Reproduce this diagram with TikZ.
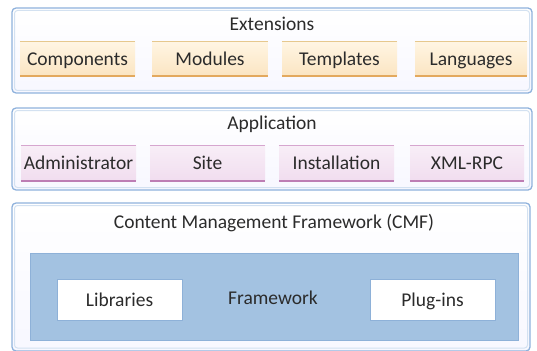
\documentclass[tikz,border=0pt]{standalone}
\usepackage{fontspec}
\setmainfont{Carlito}
\definecolor{frameblue}{HTML}{8FB2DC}
\definecolor{frameinner}{HTML}{D3E1F1}
\definecolor{txt}{HTML}{2B2B2B}
\definecolor{extfillA}{HTML}{FFF5E3}
\definecolor{extfillB}{HTML}{FBE5C2}
\definecolor{exttopc}{HTML}{E6C88E}
\definecolor{extbotc}{HTML}{E3A95E}
\definecolor{appfillA}{HTML}{F8EEF7}
\definecolor{appfillB}{HTML}{F1DDEF}
\definecolor{apptopc}{HTML}{D6A6CF}
\definecolor{appbotc}{HTML}{BD7DB4}
\definecolor{cmfblue}{HTML}{A3C2E1}
\definecolor{cmfborder}{HTML}{8EB1D8}
\tikzset{
  frame/.style={draw=frameblue, line width=1.3pt, rounded corners=4pt, top color=white, bottom color=black!2!blue!3!white},
  frameinner/.style={draw=frameinner, line width=1pt, rounded corners=3pt},
  lbl/.style={text=txt, font=\fontsize{19.5}{22}\selectfont, inner sep=0pt, text height=1.3em, text depth=0pt},
  extbox/.style={lbl, top color=extfillA, bottom color=extfillB, minimum width=115pt, minimum height=34pt},
  appbox/.style={lbl, top color=appfillA, bottom color=appfillB, minimum width=115pt, minimum height=35pt},
  exttop/.style={draw=exttopc, line width=1.3pt},
  extbot/.style={draw=extbotc, line width=1.8pt},
  apptop/.style={draw=apptopc, line width=1.3pt},
  appbot/.style={draw=appbotc, line width=1.8pt},
  whitebox/.style={lbl, fill=white, draw=cmfborder, line width=0.8pt, minimum width=125pt, minimum height=41pt},
}
\begin{document}
\begin{tikzpicture}[x=1pt,y=-1pt]
\useasboundingbox (0,0) rectangle (537,350);
% frames
\draw[frame] (12,8) rectangle (532,93);
\draw[frameinner] (14.5,10.5) rectangle (529.5,90.5);
\draw[frame] (12,108) rectangle (532,190);
\draw[frameinner] (14.5,110.5) rectangle (529.5,187.5);
\draw[frame] (12,203) rectangle (530,351);
\draw[frameinner] (14.5,205.5) rectangle (527.5,348);
% titles
\node[lbl] (exttitle) at (272,24) {Extensions};
\node[lbl] (apptitle) at (272,123) {Application};
\node[lbl] (cmftitle) at (274,222) {Content Management Framework (CMF)};
% extensions
\node[extbox] (comp) at (77.5,59) {Components};
\node[extbox] (mods) at (210,59) {Modules};
\node[extbox] (tmpl) at (339.5,59) {Templates};
\node[extbox, minimum width=112pt] (lang) at (471,59) {Languages};
\foreach \n in {comp,mods,tmpl,lang}{
  \draw[exttop] (\n.north west) -- (\n.north east);
  \draw[extbot] (\n.south west) -- (\n.south east);
}
% application
\node[appbox] (admin) at (78.5,163) {Administrator};
\node[appbox] (site) at (207.5,163) {Site};
\node[appbox] (inst) at (336.5,163) {Installation};
\node[appbox, minimum width=114pt] (xml) at (467,163) {XML-RPC};
\foreach \n in {admin,site,inst,xml}{
  \draw[apptop] (\n.north west) -- (\n.north east);
  \draw[appbot] (\n.south west) -- (\n.south east);
}
% CMF
\node[fill=cmfblue, draw=cmfborder, line width=0.6pt, minimum width=488pt, minimum height=87pt, inner sep=0pt] (fw) at (274,296.5) {};
\node[lbl] (fwlabel) at (273,298) {Framework};
\node[whitebox] (libs) at (119.5,299.5) {Libraries};
\node[whitebox] (plug) at (432.5,299.5) {Plug-ins};
\end{tikzpicture}
\end{document}
